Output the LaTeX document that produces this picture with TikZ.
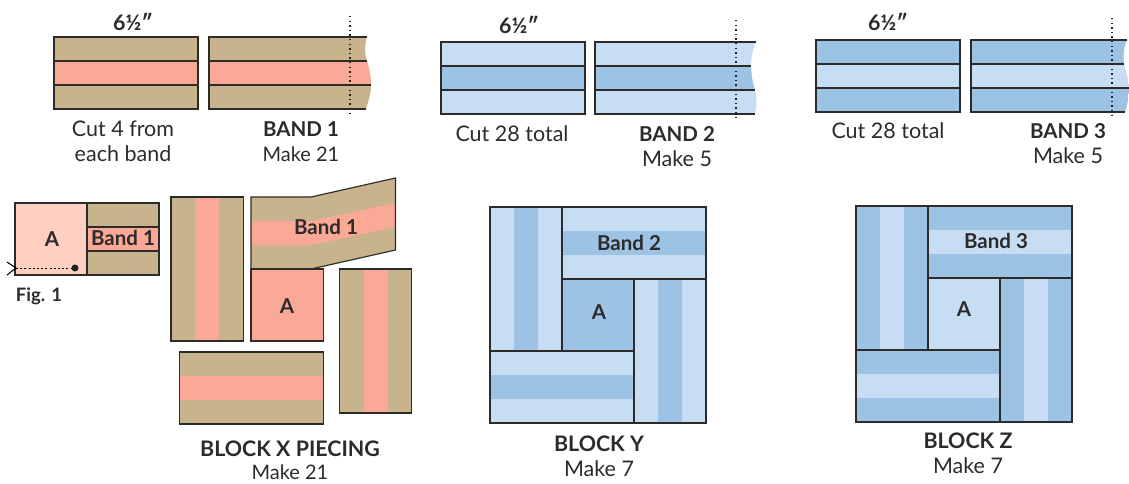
\documentclass[tikz,border=0pt]{standalone}
\usepackage{fontspec}
\setmainfont{Lato}
\tikzset{
  tanfill/.style={fill={rgb,255:red,200;green,180;blue,140}},
  pinkfill/.style={fill={rgb,255:red,249;green,169;blue,149}},
  palefill/.style={fill={rgb,255:red,255;green,207;blue,194}},
  lightfill/.style={fill={rgb,255:red,198;green,221;blue,243}},
  bluefill/.style={fill={rgb,255:red,156;green,195;blue,228}},
  outl/.style={draw={rgb,255:red,45;green,42;blue,42},line width=1.15pt},
  cutline/.style={line width=1.3pt,dash pattern=on 1.4pt off 3.2pt,draw={rgb,255:red,35;green,31;blue,32}},
  plain/.style={inner sep=0pt,font=\fontsize{21.5}{21.5}\selectfont,text={rgb,255:red,45;green,42;blue,42}},
  plainb/.style={plain,font=\fontsize{20}{20}\selectfont},
  heavy/.style={plain,font=\fontsize{20.5}{20.5}\selectfont\bfseries},
  heavyb/.style={plain,font=\fontsize{21.4}{21.4}\selectfont\bfseries}
}
\begin{document}
\begin{tikzpicture}[x=1pt,y=-1pt]
        \useasboundingbox (0,0) rectangle (1129,483);
        % band 1
        \path[tanfill] (54,37) rectangle (198,109);
        \path[pinkfill] (54,61) rectangle (198,85);
        \draw[outl] (54,37) rectangle (198,109);
        \draw[outl] (54,61) -- (198,61);
        \draw[outl] (54,85) -- (198,85);
        \begin{scope}
                \clip (209,37) -- (367,37) .. controls (364,47) and (365,55) .. (367,61) .. controls (369,68) and (371,78) .. (371,85) .. controls (371,94) and (368,102) .. (366,109) -- (209,109) -- cycle;
                \path[tanfill] (209,37) rectangle (372,109);
                \path[pinkfill] (209,61) rectangle (372,85);
        \end{scope}
        \draw[outl] (367,37) -- (209,37) -- (209,109) -- (366,109);
        \draw[outl] (209,61) -- (367,61);
        \draw[outl] (209,85) -- (371,85);
        \draw[cutline] (350,16) -- (350,113);
        \node (w1) [heavyb] at (133,22) {6½″};
        \node (c1) [plain] at (123,129) {Cut 4 from};
        \node (c1b) [plain] at (123,154) {each band};
        \node (b1) [heavy] at (301,129) {BAND 1};
        \node (m1) [plainb] at (301,154) {Make 21};
        % band 2
        \path[lightfill] (441,42) rectangle (585,114);
        \path[bluefill] (441,66) rectangle (585,90);
        \draw[outl] (441,42) rectangle (585,114);
        \draw[outl] (441,66) -- (585,66);
        \draw[outl] (441,90) -- (585,90);
        \begin{scope}
                \clip (595,42) -- (756,42) .. controls (753,48) and (751,57) .. (751,66) .. controls (751,75) and (753,84) .. (755,90) .. controls (757,97) and (757,106) .. (755,114) -- (595,114) -- cycle;
                \path[lightfill] (595,42) rectangle (758,114);
                \path[bluefill] (595,66) rectangle (758,90);
        \end{scope}
        \draw[outl] (756,42) -- (595,42) -- (595,114) -- (755,114);
        \draw[outl] (595,66) -- (751,66);
        \draw[outl] (595,90) -- (755,90);
        \draw[cutline] (736,20) -- (736,118);
        \node (w2) [heavyb] at (519,25) {6½″};
        \node (c2) [plain] at (512,134) {Cut 28 total};
        \node (b2) [heavy] at (677,134) {BAND 2};
        \node (m2) [plain] at (677,159) {Make 5};
        % band 3
        \path[bluefill] (816,40) rectangle (960,112);
        \path[lightfill] (816,64) rectangle (960,88);
        \draw[outl] (816,40) rectangle (960,112);
        \draw[outl] (816,64) -- (960,64);
        \draw[outl] (816,88) -- (960,88);
        \begin{scope}
                \clip (971,40) -- (1127,40) .. controls (1124,46) and (1123,56) .. (1124,64) .. controls (1125,72) and (1129,80) .. (1129,88) .. controls (1129,97) and (1127,106) .. (1125,112) -- (971,112) -- cycle;
                \path[bluefill] (971,40) rectangle (1129,112);
                \path[lightfill] (971,64) rectangle (1129,88);
        \end{scope}
        \draw[outl] (1127,40) -- (971,40) -- (971,112) -- (1125,112);
        \draw[outl] (971,64) -- (1124,64);
        \draw[outl] (971,88) -- (1129,88);
        \draw[cutline] (1112,18) -- (1112,116);
        \node (w3) [heavyb] at (888,22) {6½″};
        \node (c3) [plain] at (888,131) {Cut 28 total};
        \node (b3) [heavy] at (1068,131) {BAND 3};
        \node (m3) [plain] at (1068,156) {Make 5};
        % fig. 1
        \path[palefill] (15,203) rectangle (87,275);
        \path[tanfill] (87,203) rectangle (159,275);
        \path[pinkfill] (87,227) rectangle (159,251);
        \draw[outl] (15,203) rectangle (159,275);
        \draw[outl] (87,203) -- (87,275);
        \draw[outl] (87,227) -- (159,227);
        \draw[outl] (87,251) -- (159,251);
        \coordinate (s0) at (16,268);
        \node (s1) [circle,fill={rgb,255:red,35;green,31;blue,32},inner sep=0pt,minimum size=7pt] at (75,268) {};
        \draw[line width=1pt,dash pattern=on 2pt off 2.2pt] (s0) -- (s1);
        \coordinate (t0) at (7,262);
        \coordinate (t1) at (7,275);
        \draw[line width=1pt] (t0) -- (s0) -- (t1);
        \node (a0) [heavy] at (52,239) {A};
        \node (f0) [heavy] at (123,238) {Band 1};
        \node (f1) [heavy,font=\fontsize{18.5}{18.5}\selectfont\bfseries] at (39,296) {Fig. 1};
        % block x
        \path[tanfill] (171,197) rectangle (243.5,341);
        \path[pinkfill] (195,197) rectangle (219,341);
        \draw[outl] (171,197) rectangle (243.5,341);
        \path[tanfill] (251,197) -- (311,197) -- (395.5,178) -- (395.5,250) -- (311,269) -- (251,269) -- cycle;
        \path[pinkfill] (251,221) -- (311,221) -- (395.5,203) -- (395.5,227) -- (311,245) -- (251,245) -- cycle;
        \draw[outl] (251,197) -- (311,197) -- (395.5,178) -- (395.5,250) -- (311,269) -- (251,269) -- cycle;
        \path[pinkfill] (251,269) rectangle (323.5,341);
        \draw[outl] (251,269) rectangle (323.5,341);
        \path[tanfill] (339.5,269) rectangle (411.5,413);
        \path[pinkfill] (364,269) rectangle (388,413);
        \draw[outl] (339.5,269) rectangle (411.5,413);
        \path[tanfill] (179.5,352) rectangle (323.5,424);
        \path[pinkfill] (179.5,376) rectangle (323.5,400);
        \draw[outl] (179.5,352) rectangle (323.5,424);
        \node (a1) [heavy] at (287,306) {A};
        \node (x0) [heavy] at (326,227) {Band 1};
        \node (x1) [heavyb] at (290,449) {BLOCK X PIECING};
        \node (x2) [plainb] at (290,472.5) {Make 21};
        % block y
        \path[lightfill] (490,207) rectangle (706,423);
        \path[bluefill] (514,207) rectangle (538,351);
        \path[bluefill] (562,231) rectangle (706,255);
        \path[bluefill] (562,279) rectangle (634,351);
        \path[bluefill] (658,279) rectangle (682,423);
        \path[bluefill] (490,375) rectangle (634,399);
        \draw[outl] (490,207) rectangle (706,423);
        \draw[outl] (562,207) -- (562,351);
        \draw[outl] (562,279) -- (706,279);
        \draw[outl] (634,279) -- (634,423);
        \draw[outl] (490,351) -- (634,351);
        \node (y0) [heavy] at (629,243) {Band 2};
        \node (y1) [heavy] at (599,312) {A};
        \node (y2) [heavyb] at (599,444) {BLOCK Y};
        \node (y3) [plain] at (599,469) {Make 7};
        % block z
        \path[bluefill] (856,206) rectangle (1072,422);
        \path[lightfill] (880,206) rectangle (904,350);
        \path[lightfill] (928,230) rectangle (1072,254);
        \path[lightfill] (928,278) rectangle (1000,350);
        \path[lightfill] (1024,278) rectangle (1048,422);
        \path[lightfill] (856,374) rectangle (1000,398);
        \draw[outl] (856,206) rectangle (1072,422);
        \draw[outl] (928,206) -- (928,350);
        \draw[outl] (928,278) -- (1072,278);
        \draw[outl] (1000,278) -- (1000,422);
        \draw[outl] (856,350) -- (1000,350);
        \node (z0) [heavy] at (996,241) {Band 3};
        \node (z1) [heavy] at (964,309) {A};
        \node (z2) [heavyb] at (968,441) {BLOCK Z};
        \node (z3) [plain] at (968,466) {Make 7};
\end{tikzpicture}
\end{document}
